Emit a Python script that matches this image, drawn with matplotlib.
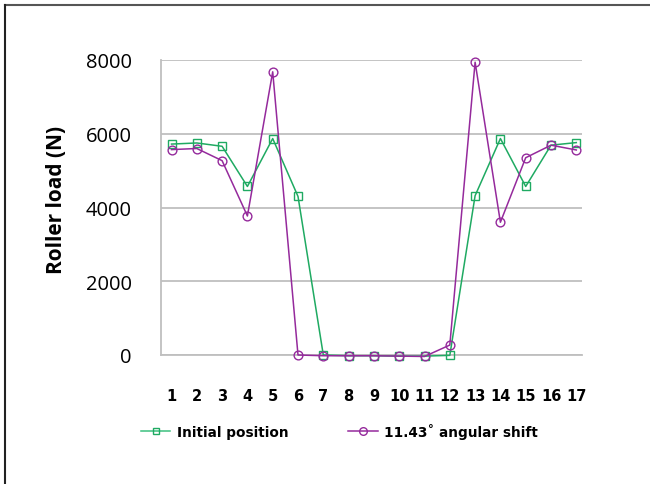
import numpy as np
import matplotlib
matplotlib.use('Agg')
import matplotlib.pyplot as plt
from matplotlib.lines import Line2D

# roller numbers and loads (N)
rollers = list(range(1, 18))
initial = [5720, 5750, 5660, 4570, 5870, 4300, 0, -20, -20, -30, -30, -10,
           4320, 5870, 4570, 5690, 5760]
shifted = [5570, 5600, 5270, 3770, 7680, 0, -20, -20, -20, -30, -40, 270,
           7940, 3600, 5350, 5690, 5560]
series_names = ['Initial position', '11.43\u02da angular shift']

green = '#1FAA62'
purple = '#952A9C'
grid_c = '#BFBFBF'

fig = plt.figure(figsize=(6.5, 4.85), dpi=100)
ax = fig.add_axes([160.7 / 650, 1 - 356 / 485, (582 - 160.7) / 650, (356 - 61) / 485])

ax.plot(rollers, initial, color=green, lw=1.1, marker='s', ms=6,
        mfc='none', mec=green, mew=1.0, clip_on=False, zorder=3)
ax.plot(rollers, shifted, color=purple, lw=1.1, marker='o', ms=6.3,
        mfc='none', mec=purple, mew=1.0, clip_on=False, zorder=4)

ax.set_xlim(0.573, 17.225)
ax.set_ylim(0, 8000)
ax.set_yticks([0, 2000, 4000, 6000, 8000])
ax.set_xticks(rollers)
ax.set_xticklabels([str(r) for r in rollers], fontfamily='DejaVu Sans',
                   fontweight='bold', fontsize=10.5)
ax.tick_params(axis='x', length=0, pad=24)
ax.tick_params(axis='y', length=0, pad=21, labelsize=14.5)
for lab in ax.get_yticklabels():
    lab.set_fontfamily('Open Sans')

ax.grid(axis='y', color=grid_c, lw=1.3)
ax.set_axisbelow(True)
for s in ['top', 'right']:
    ax.spines[s].set_visible(False)
ax.spines['left'].set_color(grid_c)
ax.spines['left'].set_linewidth(1.3)
ax.spines['bottom'].set_color(grid_c)
ax.spines['bottom'].set_linewidth(1.3)

ax.set_ylabel('Roller load (N)', fontfamily='Open Sans', fontweight='bold',
              fontsize=15)
ax.yaxis.set_label_coords(-93.7 / 421.3, 0.53)

handles = [Line2D([], [], color='#3CC07F', lw=1.1, marker='s', ms=5,
                  mfc='none', mec=green),
           Line2D([], [], color=purple, lw=1.1, marker='o', ms=5.5,
                  mfc='none', mec=purple)]
fig.legend(handles, series_names, loc='center', bbox_to_anchor=(0.522, 1 - 432 / 485),
           ncol=2, frameon=False, handlelength=2.2, handletextpad=0.45,
           columnspacing=4.4, prop={'family': 'DejaVu Sans', 'weight': 'bold', 'size': 9.8})

# outer frame (top and left edges visible)
fig.add_artist(Line2D([5 / 650, 1], [1 - 6 / 485, 1 - 6 / 485], color='#555555',
                      lw=1.5, transform=fig.transFigure))
fig.add_artist(Line2D([5 / 650, 5 / 650], [0, 1 - 6 / 485], color='#222222',
                      lw=1.5, transform=fig.transFigure))

fig.savefig('out.png', dpi=100)
